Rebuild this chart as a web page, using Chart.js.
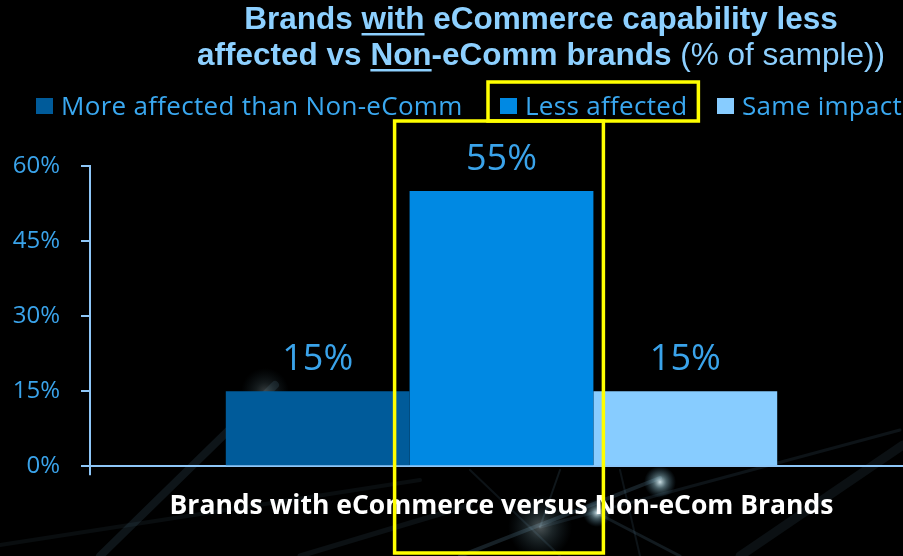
<!DOCTYPE html>
<html>
<head>
<meta charset="utf-8">
<script src="https://cdn.jsdelivr.net/npm/chart.js@4.4.1/dist/chart.umd.min.js"></script>
<style>
  html, body { margin: 0; padding: 0; background: #000; overflow: hidden; }
  #wrap { position: relative; width: 903px; height: 556px; overflow: hidden; background: #000; }
  #wrap canvas { position: absolute; left: 0; top: 0; }
</style>
</head>
<body>
<div id="wrap"><canvas id="myChart" width="920" height="556"></canvas></div>
<script>
// chart data
const categories = ["Brands with eCommerce versus Non-eCom Brands"];
const seriesNames = ["More affected than Non-eComm", "Less affected", "Same impact"];
const moreAffected = [15];
const lessAffected = [55];
const sameImpact = [15];
const yTicks = [0, 15, 30, 45, 60];

// title pieces: [text, bold, underline]
const titleLine1 = [["Brands ", true, false], ["with", true, true], [" eCommerce capability less", true, false]];
const titleLine2 = [["affected vs ", true, false], ["Non", true, true], ["-eComm brands ", true, false], ["(% of sample))", false, false]];

const barColors = ["#005b9a", "#0089e3", "#87ccff"];
const axisColor = "#8ec6f7";
const tickColor = "#3aa3ea";
const titleColor = "#8dd0ff";
const legendColor = "#3aa8f0";
const ctx = document.getElementById("myChart");

// faint network lines in the background
const backdrop = {
  id: "backdrop",
  beforeDraw(chart) {
    const c = chart.ctx;
    c.save();
    c.fillStyle = "#000";
    c.fillRect(0, 0, chart.width, chart.height);
    const lines = [
      [100, 556, 275, 385, 8, 0.13],
      [0, 545, 420, 480, 4, 0.08],
      [300, 556, 470, 505, 5, 0.1],
      [460, 556, 660, 478, 4, 0.2],
      [540, 527, 900, 430, 3, 0.12],
      [597, 513, 680, 556, 3, 0.16],
      [620, 470, 640, 556, 2, 0.12],
      [740, 556, 903, 445, 9, 0.1],
      [470, 470, 560, 556, 2, 0.12],
      [560, 470, 540, 527, 2, 0.14],
    ];
    c.lineCap = "round";
    lines.forEach(([x1, y1, x2, y2, w, a]) => {
      c.strokeStyle = `rgba(110,160,190,${a})`;
      c.lineWidth = w;
      c.beginPath();
      c.moveTo(x1, y1);
      c.lineTo(x2, y2);
      c.stroke();
    });
    const nodes = [
      [265, 392, 12, 0.25],
      [660, 482, 8, 0.9],
      [597, 513, 7, 0.85],
      [540, 527, 16, 0.35],
    ];
    nodes.forEach(([x, y, r, a]) => {
      const g = c.createRadialGradient(x, y, 0, x, y, r * 2);
      g.addColorStop(0, `rgba(225,245,250,${a})`);
      g.addColorStop(0.4, `rgba(160,210,225,${a * 0.5})`);
      g.addColorStop(1, "rgba(80,140,170,0)");
      c.fillStyle = g;
      c.beginPath();
      c.arc(x, y, r * 2, 0, Math.PI * 2);
      c.fill();
    });
    c.restore();
  },
};

function drawTitleLine(c, parts, cx, baseline) {
  const fontFor = (bold) => `${bold ? "bold " : ""}31.5px "Liberation Sans", Arial, sans-serif`;
  let total = 0;
  parts.forEach(([t, b]) => {
    c.font = fontFor(b);
    total += c.measureText(t).width;
  });
  let x = cx - total / 2;
  parts.forEach(([t, b, u]) => {
    c.font = fontFor(b);
    const w = c.measureText(t).width;
    c.fillText(t, x, baseline);
    if (u) c.fillRect(x, baseline + 4, w, 2.5);
    x += w;
  });
}

// title, legend, value labels and highlight boxes
const overlay = {
  id: "overlay",
  afterDatasetsDraw(chart) {
    const c = chart.ctx;
    c.save();
    c.fillStyle = tickColor;
    c.font = '36px "Open Sans", sans-serif';
    c.textAlign = "center";
    c.textBaseline = "alphabetic";
    chart.data.datasets.forEach((ds, i) => {
      chart.getDatasetMeta(i).data.forEach((bar, j) => {
        c.fillText(ds.data[j] + "%", bar.x, bar.y - 21);
      });
    });
    c.restore();
  },
  afterDraw(chart) {
    const c = chart.ctx;
    c.save();
    c.fillStyle = titleColor;
    c.textAlign = "left";
    c.textBaseline = "alphabetic";
    drawTitleLine(c, titleLine1, 541, 29);
    drawTitleLine(c, titleLine2, 541, 65);

    // legend
    const legendX = [36, 500, 717];
    const ends = [];
    c.font = '26px "Open Sans", sans-serif';
    c.letterSpacing = "0.3px";
    chart.data.datasets.forEach((ds, i) => {
      const x = legendX[i];
      c.fillStyle = ds.backgroundColor;
      c.fillRect(x, 98, 17, 16);
      c.fillStyle = legendColor;
      c.fillText(ds.label, x + 25, 115);
      ends.push(x + 25 + c.measureText(ds.label).width);
    });

    // yellow highlight around "Less affected"
    c.strokeStyle = "#ffff00";
    c.lineWidth = 3.5;
    c.strokeRect(legendX[1] - 12, 82, ends[1] + 11 - (legendX[1] - 12), 39);
    const bar = chart.getDatasetMeta(1).data[0];
    const left = bar.x - bar.width / 2 - 15;
    const right = bar.x + bar.width / 2 + 10;
    c.strokeRect(left, 121, right - left, 432);
    c.restore();
  },
};

new Chart(ctx, {
  type: "bar",
  data: {
    labels: categories,
    datasets: [
      { label: seriesNames[0], data: moreAffected, backgroundColor: barColors[0] },
      { label: seriesNames[1], data: lessAffected, backgroundColor: barColors[1] },
      { label: seriesNames[2], data: sameImpact, backgroundColor: barColors[2] },
    ],
  },
  options: {
    responsive: false,
    animation: false,
    devicePixelRatio: 1,
    layout: { padding: { top: 166, left: 11, right: 7, bottom: 19 } },
    datasets: { bar: { categoryPercentage: 0.67, barPercentage: 1.0, borderWidth: 0 } },
    plugins: {
      legend: { display: false },
      title: { display: false },
      tooltip: { enabled: false },
    },
    scales: {
      x: {
        grid: { drawOnChartArea: false, color: axisColor, lineWidth: 2, tickLength: 9 },
        border: { color: axisColor, width: 2 },
        ticks: {
          color: "#ffffff",
          padding: 15,
          font: { family: '"Open Sans", sans-serif', size: 26.5, weight: "bold" },
        },
      },
      y: {
        min: yTicks[0],
        max: yTicks[yTicks.length - 1],
        afterBuildTicks: (scale) => {
          scale.ticks = yTicks.map((v) => ({ value: v }));
        },
        afterFit: (scale) => {
          scale.width = 79;
        },
        grid: { drawOnChartArea: false, color: axisColor, lineWidth: 2, tickLength: 9 },
        border: { color: axisColor, width: 2 },
        ticks: {
          color: tickColor,
          padding: 21,
          font: { family: '"Open Sans", sans-serif', size: 24 },
          callback: (v) => v + "%",
        },
      },
    },
  },
  plugins: [backdrop, overlay],
});
</script>
</body>
</html>
